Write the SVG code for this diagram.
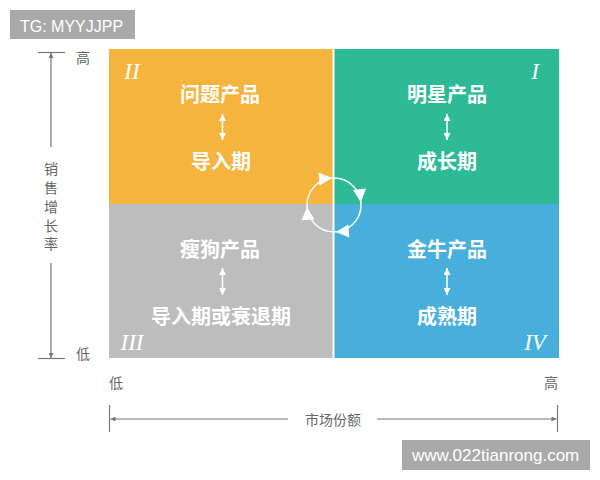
<svg xmlns="http://www.w3.org/2000/svg" width="600" height="480" viewBox="0 0 600 480">
<defs>
<style>
.q{font-family:"Noto Sans CJK SC","Noto Sans",sans-serif;font-weight:bold;font-size:20px;fill:#fff;text-anchor:middle}
.rn{font-family:"Liberation Serif",serif;font-style:italic;font-size:23px;fill:#fff;text-anchor:middle}
.ax{font-family:"Noto Sans CJK SC","Noto Sans",sans-serif;font-size:14px;fill:#666;text-anchor:middle}
.wm{font-family:"Liberation Sans",Arial,sans-serif;fill:#fff}
.al{stroke:#777;stroke-width:1.2;fill:none}
.wl{stroke:#fff;stroke-width:1.5;fill:none}
</style>
<marker id="ga" viewBox="0 0 10 10" refX="10" refY="5" markerWidth="7" markerHeight="5" markerUnits="userSpaceOnUse" orient="auto"><path d="M0,0 L10,5 L0,10 z" fill="#777"/></marker>
<marker id="wa" viewBox="0 0 10 10" refX="10" refY="5" markerWidth="7" markerHeight="7" markerUnits="userSpaceOnUse" orient="auto-start-reverse"><path d="M0,0 L10,5 L0,10 z" fill="#fff"/></marker>
</defs>
<rect width="600" height="480" fill="#fff"/>

<g id="q2">
<rect x="109" y="49" width="223.5" height="155" fill="#F4B43E"/>
<text class="rn" x="132" y="79">II</text>
<text class="q" x="220" y="101.5">问题产品</text>
<line class="wl" x1="222.5" y1="114" x2="222.5" y2="140" marker-start="url(#wa)" marker-end="url(#wa)"/>
<text class="q" x="221" y="169">导入期</text>
</g>
<g id="q1">
<rect x="334.5" y="49" width="224.5" height="155" fill="#2EBA96"/>
<text class="rn" x="535" y="79">I</text>
<text class="q" x="447" y="101.5">明星产品</text>
<line class="wl" x1="447" y1="114" x2="447" y2="140" marker-start="url(#wa)" marker-end="url(#wa)"/>
<text class="q" x="447" y="169">成长期</text>
</g>
<g id="q3">
<rect x="109" y="204" width="223.5" height="154" fill="#BEBDBD"/>
<text class="rn" x="132" y="350">III</text>
<text class="q" x="220" y="256.5">瘦狗产品</text>
<line class="wl" x1="222.5" y1="268" x2="222.5" y2="295" marker-start="url(#wa)" marker-end="url(#wa)"/>
<text class="q" x="221" y="324">导入期或衰退期</text>
</g>
<g id="q4">
<rect x="334.5" y="204" width="224.5" height="154" fill="#48AFDD"/>
<text class="rn" x="535" y="350">IV</text>
<text class="q" x="447" y="256.5">金牛产品</text>
<line class="wl" x1="447" y1="268" x2="447" y2="295" marker-start="url(#wa)" marker-end="url(#wa)"/>
<text class="q" x="447" y="323.5">成熟期</text>
</g>

<g id="connectors">
<circle class="wl" cx="334" cy="205" r="27"/>
<g fill="#fff">
<polygon transform="translate(332.1,178.1) rotate(-4)" points="0,0 -13,-6.5 -13,6.5"/>
<polygon transform="translate(360.9,202.2) rotate(84)" points="0,0 -13,-6.5 -13,6.5"/>
<polygon transform="translate(335.9,231.9) rotate(176)" points="0,0 -13,-6.5 -13,6.5"/>
<polygon transform="translate(307.1,206.9) rotate(266)" points="0,0 -13,-6.5 -13,6.5"/>
</g>
</g>

<g id="y-axis">
<line class="al" x1="38" y1="52.5" x2="65" y2="52.5"/>
<line class="al" x1="38" y1="358.5" x2="65" y2="358.5"/>
<line class="al" x1="51" y1="147" x2="51" y2="53" marker-end="url(#ga)"/>
<line class="al" x1="51" y1="263" x2="51" y2="358" marker-end="url(#ga)"/>
<text class="ax" font-size="15" x="51" y="173.5">销</text>
<text class="ax" font-size="15" x="51" y="192.5">售</text>
<text class="ax" font-size="15" x="51" y="211.5">增</text>
<text class="ax" font-size="15" x="51" y="230.5">长</text>
<text class="ax" font-size="15" x="51" y="249">率</text>
<text class="ax" x="83" y="63">高</text>
<text class="ax" x="83" y="359">低</text>
</g>

<g id="x-axis">
<line class="al" x1="109.5" y1="405" x2="109.5" y2="432"/>
<line class="al" x1="557.5" y1="405" x2="557.5" y2="432"/>
<line class="al" x1="288" y1="419" x2="110.5" y2="419" marker-end="url(#ga)"/>
<line class="al" x1="377" y1="419" x2="556.5" y2="419" marker-end="url(#ga)"/>
<text class="ax" font-size="15" x="333" y="424.5">市场份额</text>
<text class="ax" x="116" y="388">低</text>
<text class="ax" x="551" y="388">高</text>
</g>

<g id="watermarks">
<rect x="10" y="10" width="125" height="29" fill="#A9A9A9"/>
<text class="wm" x="20" y="31.5" font-size="16">TG: MYYJJPP</text>
<rect x="402" y="440" width="188" height="30" fill="#A9A9A9"/>
<text class="wm" x="412" y="461" font-size="17">www.022tianrong.com</text>
</g>
</svg>
